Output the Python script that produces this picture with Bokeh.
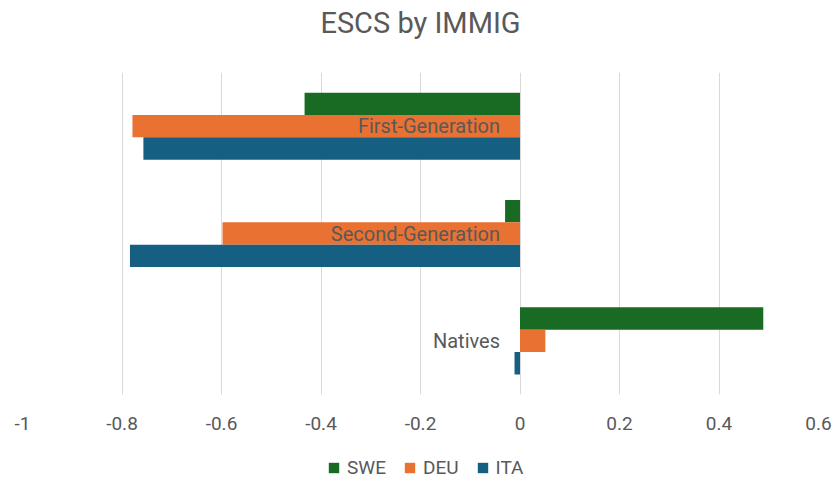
from bokeh.plotting import figure
from bokeh.layouts import column
from bokeh.models import ColumnDataSource, FactorRange, Range1d, FixedTicker, Legend, LegendItem
from bokeh.transform import dodge
from bokeh.core.properties import value
from bokeh.embed import file_html
from bokeh.resources import INLINE

# ESCS mean by immigrant background, per country
categories = ["First-Generation", "Second-Generation", "Natives"]
series = ["SWE", "DEU", "ITA"]
swe = [-0.433, -0.030, 0.489]
deu = [-0.779, -0.598, 0.051]
ita = [-0.757, -0.784, -0.011]

tick_values = [-1, -0.8, -0.6, -0.4, -0.2, 0, 0.2, 0.4, 0.6]
tick_labels = ["-1", "-0.8", "-0.6", "-0.4", "-0.2", "0", "0.2", "0.4", "0.6"]

title_text = "ESCS by IMMIG"

COLORS = ["#196B24", "#E97132", "#156082"]
TEXT = "#595959"
GRID = "#D9D9D9"
FONT = "Roboto"
W = 836


def strip(height):
    """A blank figure used as a header/footer band."""
    f = figure(width=W, height=height, x_range=Range1d(0, 1), y_range=Range1d(0, height),
               output_backend="svg", toolbar_location=None,
               min_border_left=0, min_border_right=0,
               min_border_top=0, min_border_bottom=0)
    f.axis.visible = False
    f.grid.visible = False
    f.outline_line_color = None
    return f


# title band
head = strip(72)
head.text(x=[0.5], y=[50], text=[title_text], text_align="center", text_baseline="middle",
          text_font=value(FONT), text_font_size="29px", text_color=TEXT)

# main chart
source = ColumnDataSource(dict(cat=categories, SWE=swe, DEU=deu, ITA=ita))

p = figure(
    width=W, height=374,
    y_range=FactorRange(factors=list(reversed(categories)), range_padding=0),
    x_range=Range1d(-1, 0.6),
    output_backend="svg", toolbar_location=None,
    min_border_left=22, min_border_right=18,
    min_border_top=0, min_border_bottom=52,
)

# three bars per category, dodged around the category centre
bar_h = 0.625 / 3
offsets = [bar_h, 0, -bar_h]
for name, off, col in zip(series, offsets, COLORS):
    p.hbar(y=dodge("cat", off, range=p.y_range), left=0, right=name, height=bar_h,
           source=source, color=col, line_color=None)

# category names sit just left of the zero line
p.text(x=0, y="cat", text="cat", source=source, x_offset=-20,
       text_align="right", text_baseline="middle",
       text_font=value(FONT), text_font_size="20px", text_color=TEXT)

p.yaxis.visible = False
p.ygrid.grid_line_color = None
p.xgrid.grid_line_color = GRID
p.xaxis.ticker = FixedTicker(ticks=tick_values)
p.xaxis.major_label_overrides = {v: s for v, s in zip(tick_values, tick_labels)}
p.xaxis.axis_line_color = None
p.xaxis.major_tick_line_color = None
p.xaxis.minor_tick_line_color = None
p.xaxis.major_label_standoff = 16
p.xaxis.major_label_text_font = FONT
p.xaxis.major_label_text_font_size = "19px"
p.xaxis.major_label_text_color = TEXT
p.outline_line_color = None

# legend band underneath the chart; swatch renderers sit outside the visible range
foot = strip(34)
items = []
for name, col in zip(series, COLORS):
    r = foot.hbar(y=[-100], left=[0], right=[1], height=1, color=col, line_color=None)
    items.append(LegendItem(label=name, renderers=[r]))
lg = Legend(items=items, orientation="horizontal", location=(305, 1),
            padding=0, margin=0, spacing=17, label_standoff=7,
            glyph_width=13, glyph_height=13,
            border_line_color=None, background_fill_alpha=0,
            label_text_font=FONT, label_text_font_size="19px", label_text_color=TEXT)
foot.add_layout(lg)

layout = column(head, p, foot, spacing=0)
open("out.html", "w").write(file_html(layout, INLINE))
